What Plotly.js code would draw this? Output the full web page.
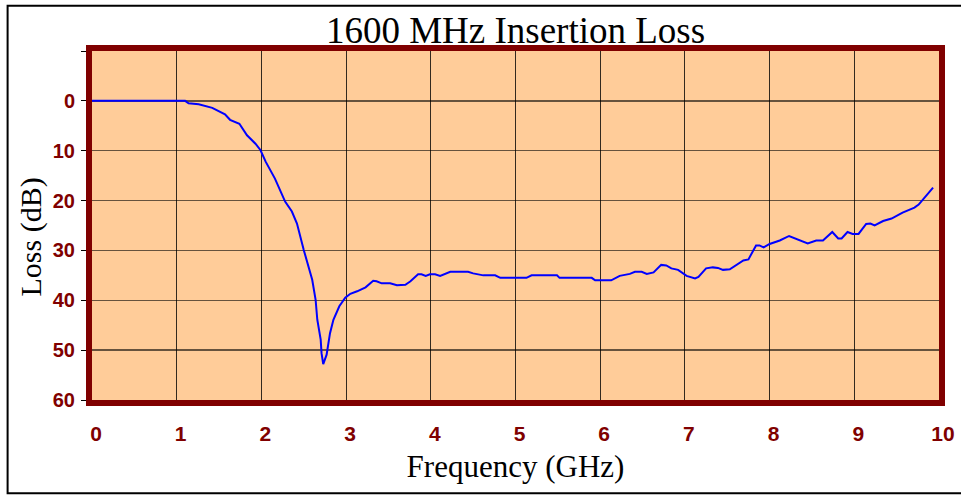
<!DOCTYPE html>
<html>
<head>
<meta charset="utf-8">
<script src="https://cdn.plot.ly/plotly-3.0.1.min.js"></script>
<style>html,body{margin:0;padding:0;background:#fff;}#chart{width:961px;height:496px;}</style>
</head>
<body>
<div id="chart"></div>
<script>
// Frequency (GHz)
const freq = [0, 0.5, 1.0, 1.10, 1.14, 1.26, 1.42, 1.57, 1.63, 1.74, 1.83, 1.93, 1.99, 2.05, 2.16, 2.22, 2.28, 2.36, 2.42, 2.50, 2.60, 2.64, 2.66, 2.70, 2.71, 2.73, 2.75, 2.77, 2.81, 2.85, 2.92, 2.99, 3.05, 3.13, 3.23, 3.32, 3.36, 3.42, 3.52, 3.60, 3.70, 3.76, 3.85, 3.89, 3.94, 3.99, 4.05, 4.11, 4.23, 4.44, 4.50, 4.62, 4.76, 4.82, 5.13, 5.19, 5.49, 5.52, 5.90, 5.94, 6.13, 6.23, 6.35, 6.41, 6.49, 6.55, 6.63, 6.72, 6.78, 6.84, 6.92, 7.02, 7.12, 7.16, 7.25, 7.33, 7.39, 7.45, 7.53, 7.61, 7.69, 7.75, 7.80, 7.84, 7.88, 7.93, 8.00, 8.12, 8.23, 8.35, 8.45, 8.55, 8.63, 8.74, 8.81, 8.85, 8.92, 8.98, 9.05, 9.14, 9.19, 9.24, 9.34, 9.44, 9.57, 9.71, 9.76, 9.93];
// Insertion loss (dB)
const loss = [0, 0, 0, 0, 0.5, 0.7, 1.4, 2.7, 3.8, 4.6, 6.9, 8.6, 9.9, 12.2, 15.6, 17.9, 20.2, 22.2, 24.6, 29.9, 35.9, 39.9, 43.9, 47.9, 50.6, 52.8, 51.8, 50.9, 46.6, 43.9, 41.2, 39.5, 38.7, 38.2, 37.4, 36.1, 36.2, 36.6, 36.6, 37.0, 36.9, 36.2, 34.8, 34.8, 35.1, 34.8, 34.8, 35.1, 34.3, 34.3, 34.6, 35.0, 35.0, 35.5, 35.5, 35.0, 35.0, 35.5, 35.5, 36.0, 36.0, 35.1, 34.7, 34.3, 34.3, 34.7, 34.4, 32.9, 33.0, 33.6, 33.9, 35.1, 35.6, 35.3, 33.6, 33.4, 33.5, 33.9, 33.8, 32.9, 32.0, 31.8, 30.4, 29.0, 29.0, 29.4, 28.7, 28.0, 27.1, 28.0, 28.6, 28.0, 28.0, 26.3, 27.6, 27.6, 26.3, 26.7, 26.7, 24.7, 24.6, 25.0, 24.1, 23.6, 22.4, 21.4, 20.8, 17.4];

const xTicks = [0, 1, 2, 3, 4, 5, 6, 7, 8, 9, 10];
const yTicks = [-10, 0, 10, 20, 30, 40, 50, 60];
const yTickText = ['', '0', '10', '20', '30', '40', '50', '60'];

const titleText = '1600 MHz Insertion Loss';
const xTitle = 'Frequency (GHz)';
const yTitle = 'Loss (dB)';

const data = [{
  type: 'scatter', mode: 'lines', x: freq, y: loss,
  line: {color: '#0000FF', width: 2},
  hoverinfo: 'x+y', showlegend: false
}];

const serif = 'Liberation Serif, Times New Roman, serif';
const xTickFont = {family: 'Liberation Sans, Arial, sans-serif', size: 21, color: '#800000', weight: 'bold'};
const yTickFont = {family: 'Liberation Sans, Arial, sans-serif', size: 20, color: '#800000', weight: 'bold'};

const layout = {
  width: 961, height: 496,
  margin: {l: 91.5, r: 21.5, t: 50.5, b: 95.5, pad: 0},
  paper_bgcolor: '#FFFFFF',
  plot_bgcolor: '#FFCC99',
  showlegend: false,
  title: {
    text: titleText,
    font: {family: serif, size: 37, color: '#000'},
    xref: 'paper', x: 0.5, xanchor: 'center',
    yref: 'container', y: 1 - 30/496, yanchor: 'middle'
  },
  xaxis: {
    range: [0, 10], tickvals: xTicks, ticktext: xTicks.map(String),
    ticks: '', ticklabelstandoff: 10, ticklabelshift: 4,
    tickfont: xTickFont,
    showgrid: true, gridcolor: 'rgba(0,0,0,0.8)', gridwidth: 1,
    showline: true, linecolor: '#800000', linewidth: 6, mirror: true,
    zeroline: false,
    title: {text: xTitle, font: {family: serif, size: 31, color: '#000'}, standoff: 13}
  },
  xaxis2: {
    overlaying: 'x', anchor: 'free', position: 60/70, side: 'bottom',
    range: [0, 10], tickvals: xTicks, showticklabels: false,
    ticks: 'outside', ticklen: 6, tickcolor: '#000', tickwidth: 1,
    showgrid: false, showline: false, zeroline: false
  },
  yaxis: {
    range: [60, -10], tickvals: yTicks, ticktext: yTickText,
    ticks: 'outside', ticklen: 5, tickcolor: '#000', tickwidth: 1,
    ticklabelstandoff: 2,
    tickfont: yTickFont,
    showgrid: true, gridcolor: 'rgba(0,0,0,0.6)', gridwidth: 1.5,
    showline: true, linecolor: '#800000', linewidth: 6, mirror: true,
    zeroline: false
  },
  annotations: [{
    text: yTitle, textangle: -90, showarrow: false,
    xref: 'paper', yref: 'paper',
    x: (30 - 91.5)/848, y: (400.5 - 237)/350,
    xanchor: 'center', yanchor: 'middle',
    font: {family: serif, size: 30, color: '#000'}
  }],
  shapes: [{
    type: 'rect', xref: 'paper', yref: 'paper',
    x0: (7 - 91.5)/848, x1: (980 - 91.5)/848,
    y0: (400.5 - 494)/350, y1: (400.5 - 5)/350,
    line: {color: '#000', width: 2}, fillcolor: 'rgba(0,0,0,0)', layer: 'below'
  }]
};

Plotly.newPlot('chart', data, layout, {staticPlot: true, displayModeBar: false});
</script>
</body>
</html>
